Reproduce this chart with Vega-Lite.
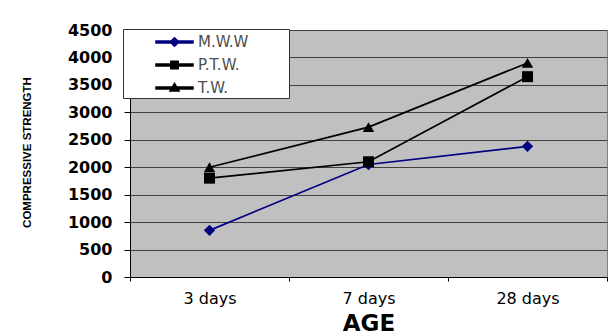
{
  "$schema": "https://vega.github.io/schema/vega-lite/v6.json",
  "width": 477,
  "height": 247,
  "autosize": {"type": "none"},
  "padding": {"left": 130, "top": 30, "right": 1, "bottom": 58},
  "background": "white",
  "config": {
    "view": {"fill": "#c0c0c0", "stroke": "#808080", "strokeWidth": 1},
    "font": "Liberation Sans"
  },
  "data": {
    "values": [
      {"series": "M.W.W", "age": "3 days", "strength": 850},
      {"series": "M.W.W", "age": "7 days", "strength": 2050},
      {"series": "M.W.W", "age": "28 days", "strength": 2380},
      {"series": "P.T.W.", "age": "3 days", "strength": 1800},
      {"series": "P.T.W.", "age": "7 days", "strength": 2100},
      {"series": "P.T.W.", "age": "28 days", "strength": 3650},
      {"series": "T.W.", "age": "3 days", "strength": 2000},
      {"series": "T.W.", "age": "7 days", "strength": 2730},
      {"series": "T.W.", "age": "28 days", "strength": 3900}
    ]
  },
  "encoding": {
    "x": {
      "field": "age",
      "type": "ordinal",
      "sort": ["3 days", "7 days", "28 days"],
      "scale": {"type": "band", "paddingInner": 0, "paddingOuter": 0},
      "axis": {
        "title": "AGE",
        "titleFont": "DejaVu Sans",
        "titleFontSize": 23,
        "titleFontWeight": "bold",
        "titleColor": "#000000",
        "titleBaseline": "middle",
        "titleY": 46,
        "labelAngle": 0,
        "labelFont": "DejaVu Sans",
        "labelFontSize": 16,
        "labelColor": "#000000",
        "labelPadding": 9,
        "tickBand": "extent",
        "ticks": true,
        "tickSize": 4,
        "tickColor": "#000000",
        "domain": true,
        "domainColor": "#000000",
        "grid": false
      }
    },
    "y": {
      "field": "strength",
      "type": "quantitative",
      "scale": {"domain": [0, 4500], "nice": false},
      "axis": {
        "title": "COMPRESSIVE STRENGTH",
        "titleFont": "Liberation Sans",
        "titleFontSize": 11.5,
        "titleFontWeight": "bold",
        "titleColor": "#000000",
        "titleAngle": -90,
        "titleAlign": "center",
        "titleBaseline": "middle",
        "titleX": -103,
        "titleY": 122,
        "values": [0, 500, 1000, 1500, 2000, 2500, 3000, 3500, 4000, 4500],
        "format": "d",
        "labelFont": "DejaVu Sans",
        "labelFontSize": 16,
        "labelFontWeight": "bold",
        "labelColor": "#000000",
        "labelPadding": 12,
        "ticks": true,
        "tickSize": 6,
        "tickColor": "#000000",
        "domain": true,
        "domainColor": "#000000",
        "grid": true,
        "gridColor": "#404040",
        "gridWidth": 1
      }
    },
    "color": {
      "field": "series",
      "type": "nominal",
      "scale": {
        "domain": ["M.W.W", "P.T.W.", "T.W."],
        "range": ["#000080", "#000000", "#000000"]
      },
      "legend": {
        "title": null,
        "orient": "none",
        "legendX": -7,
        "legendY": -1,
        "padding": 2,
        "fillColor": "#ffffff",
        "strokeColor": "#333333",
        "symbolSize": 400,
        "symbolOpacity": 1,
        "labelOffset": 51,
        "labelFont": "DejaVu Sans",
        "labelFontSize": 15,
        "labelColor": "#4d4d4d",
        "rowPadding": 4,
        "zindex": 5,
        "encode": {
          "symbols": {
            "update": {
              "fill": {"scale": "color", "field": "value"},
              "opacity": {"value": 1}
            }
          }
        }
      }
    }
  },
  "layer": [
    {
      "mark": {"type": "line", "strokeWidth": 1.7}
    },
    {
      "mark": {"type": "point", "filled": true, "opacity": 0},
      "encoding": {
        "shape": {
          "field": "series",
          "type": "nominal",
          "scale": {
            "domain": ["M.W.W", "P.T.W.", "T.W."],
            "range": [
              "M14.8,0M2,-0.09H5.7V0.09H2ZM3.85,-0.42L4.3,0L3.85,0.42L3.4,0Z",
              "M14.8,0M2,-0.09H5.7V0.09H2ZM3.48,-0.37H4.22V0.37H3.48Z",
              "M14.8,0M2,-0.09H5.7V0.09H2ZM3.85,-0.45L4.3,0.3H3.4Z"
            ]
          },
          "legend": null
        }
      }
    },
    {
      "transform": [{"filter": "datum.series === 'M.W.W'"}],
      "mark": {"type": "point", "filled": true, "opacity": 1, "shape": "diamond", "size": 130}
    },
    {
      "transform": [{"filter": "datum.series === 'P.T.W.'"}],
      "mark": {"type": "point", "filled": true, "opacity": 1, "shape": "square", "size": 120}
    },
    {
      "transform": [{"filter": "datum.series === 'T.W.'"}],
      "mark": {"type": "point", "filled": true, "opacity": 1, "shape": "triangle-up", "size": 130}
    }
  ]
}
